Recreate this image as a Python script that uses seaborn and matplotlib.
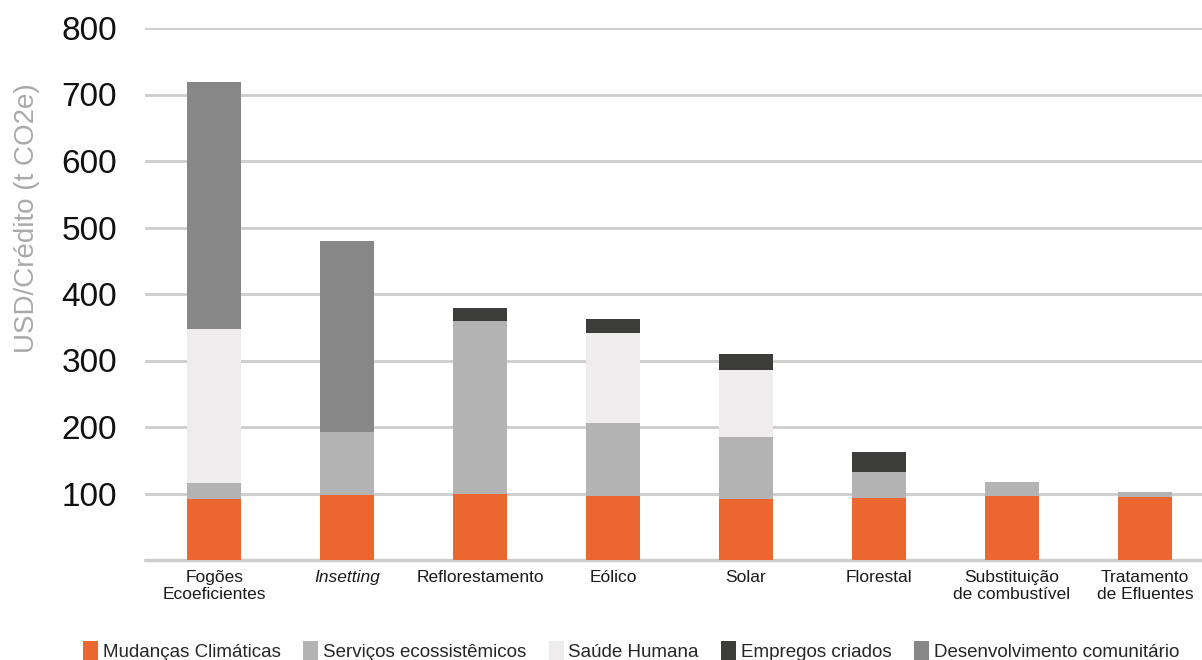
import matplotlib
matplotlib.use("Agg")
import matplotlib.pyplot as plt
import seaborn as sns
import numpy as np
import pandas as pd
from matplotlib.patches import Patch

categories = ["Fogões\nEcoeficientes", "Insetting", "Reflorestamento", "Eólico", "Solar",
              "Florestal", "Substituição\nde combustível", "Tratamento\nde Efluentes"]
series_names = ["Mudanças Climáticas", "Serviços ecossistêmicos", "Saúde Humana",
                "Empregos criados", "Desenvolvimento comunitário"]
mudancas = [92, 97, 99, 96, 92, 93, 96, 95]
servicos = [24, 96, 260, 110, 93, 39, 21, 7]
saude = [232, 0, 0, 135, 100, 0, 0, 0]
empregos = [0, 0, 20, 21, 25, 30, 0, 0]
desenvolvimento = [371, 287, 0, 0, 0, 0, 0, 0]
yticks = [100, 200, 300, 400, 500, 600, 700, 800]

colors = ["#EC672F", "#B3B3B3", "#EEECED", "#3C3C3B", "#878787"]

sns.set_theme(style="white")
plt.rcParams["font.family"] = ["Liberation Sans", "DejaVu Sans"]

fig = plt.figure(figsize=(12.02, 6.6), dpi=100)
ax = fig.add_axes([145 / 1202, 100 / 660, 1 - 145 / 1202, (560 - 28) / 660])

layers = [mudancas, servicos, saude, empregos, desenvolvimento]
cum = np.cumsum(np.array(layers), axis=0)
df = pd.DataFrame({"cat": categories})
# draw from top layer down so each lower layer overlays
for i in range(len(layers) - 1, -1, -1):
    df["val"] = cum[i]
    sns.barplot(data=df, x="cat", y="val", color=colors[i], width=0.41,
                saturation=1, ax=ax, edgecolor="none", linewidth=0, zorder=3)

ax.set_ylim(0, 800)
ax.set_xlim(-0.52, 7.43)
ax.set_yticks(yticks)
ax.set_yticklabels([str(v) for v in yticks])
ax.yaxis.grid(True, color="#CFCCCC", linewidth=2, zorder=0)
ax.axhline(0, color="#CFCCCC", linewidth=2.5, zorder=1, clip_on=False)
ax.set_axisbelow(True)
for s in ax.spines.values():
    s.set_visible(False)
ax.tick_params(axis="y", length=0, pad=20, labelsize=24, labelcolor="#111111")
ax.tick_params(axis="x", length=0, pad=7, labelsize=12.5, labelcolor="#1A1A1A")
ax.set_xlabel("")
ax.set_ylabel("")
for lbl in ax.get_xticklabels():
    if lbl.get_text() == "Insetting":
        lbl.set_fontstyle("italic")

fig.text(27 / 1202, (660 - 218) / 660, "USD/Crédito (t CO2e)", rotation=90,
         ha="center", va="center", fontsize=20, color="#AAAAAA")

handles = [Patch(facecolor=c, edgecolor="none") for c in colors]
leg = fig.legend(handles, series_names, loc="center", bbox_to_anchor=(0.525, 0.014),
                 ncol=5, frameon=False, fontsize=13.5, handlelength=0.8, handleheight=1.3,
                 handletextpad=0.25, columnspacing=1.2, borderaxespad=0)

fig.savefig("out.png", dpi=100)
